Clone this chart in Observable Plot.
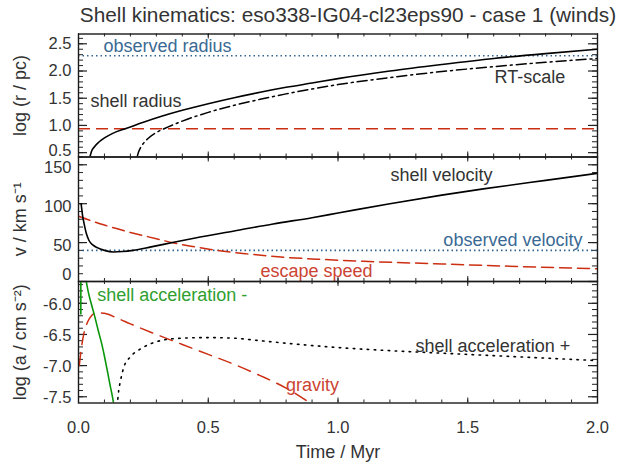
<!DOCTYPE html>
<html><head><meta charset="utf-8">
<script src="https://cdn.jsdelivr.net/npm/d3@7"></script>
<script src="https://cdn.jsdelivr.net/npm/@observablehq/plot@0.6"></script>
<style>
body{margin:0;background:#fff;}
#c{position:relative;width:627px;height:471px;background:#fff;font-family:"Liberation Sans",Arial,Helvetica,sans-serif;overflow:hidden;}
#title{position:absolute;left:0;top:3px;width:696px;text-align:center;font-size:20.8px;line-height:24px;color:#333;white-space:nowrap;}
</style></head>
<body>
<div id="c"><div id="title">Shell kinematics: eso338-IG04-cl23eps90 - case 1 (winds)</div></div>
<script>
// ---- data ----
const timeTicksMajor = [0, 0.5, 1.0, 1.5, 2.0];
const timeTicksMinor = d3.range(0, 2.0001, 0.1);

// panel 1: log radius
const radiusT = [0.044,0.05,0.06,0.08,0.10,0.13,0.18,0.25,0.32,0.40,0.50,0.60,0.70,0.80,0.90,1.00,1.20,1.40,1.60,1.80,2.00];
const radiusV = [0.42,0.52,0.60,0.70,0.77,0.85,0.94,1.06,1.17,1.28,1.40,1.51,1.61,1.70,1.78,1.86,2.00,2.12,2.23,2.32,2.40];
const rtT = [0.226,0.232,0.24,0.25,0.27,0.30,0.33,0.40,0.50,0.60,0.70,0.80,0.90,1.00,1.20,1.40,1.60,1.80,2.00];
const rtV = [0.42,0.52,0.60,0.67,0.77,0.87,0.94,1.08,1.24,1.37,1.48,1.58,1.67,1.75,1.88,1.99,2.08,2.16,2.23];
const observedRadius = [2.28];
const clusterRadius = [0.94];
const radiusTicksMajor = [0.5, 1.0, 1.5, 2.0, 2.5];
const radiusTicksMinor = d3.range(0.5, 2.61, 0.1);

// panel 2: velocity
const velT = [0.010,0.013,0.016,0.020,0.025,0.030,0.040,0.055,0.072,0.100,0.135,0.170,0.210,0.280,0.367,0.450,0.600,0.750,0.900,1.000,1.200,1.400,1.560,1.800,2.000];
const velV = [100,92,84,77,69,62,53,47,43.5,40,38,38.5,40,44.5,50.5,56,65,74,82,88,100,111,119,130,139];
const escT = [0,0.05,0.1,0.2,0.3,0.367,0.45,0.534,0.65,0.8,0.93,1.1,1.4,1.7,2.0];
const escV = [84,78,72.5,63,55,49.5,44.5,40,35.5,31,28.5,26,22.5,19.2,16.4];
const observedVelocity = [40];
const velTicksMajor = [0, 50, 100, 150];
const velTicksMinor = d3.range(0, 161, 10);

// panel 3: log acceleration
const accNegEarlyT = [0.009, 0.009];
const accNegEarlyV = [-6.17, -5.55];
const accNegT = [0.028,0.033,0.040,0.050,0.060,0.075,0.090,0.100,0.112,0.123,0.130,0.137];
const accNegV = [-5.60,-5.72,-5.86,-6.02,-6.17,-6.42,-6.66,-6.85,-7.10,-7.34,-7.48,-7.65];
const accPosT = [0.149,0.155,0.162,0.175,0.200,0.240,0.290,0.340,0.400,0.500,0.600,0.700,0.850,1.000,1.200,1.400,1.600,1.800,2.000];
const accPosV = [-7.65,-7.40,-7.24,-7.02,-6.86,-6.73,-6.63,-6.58,-6.56,-6.55,-6.56,-6.60,-6.66,-6.71,-6.76,-6.80,-6.84,-6.88,-6.92];
const gravT = [0.003,0.010,0.020,0.035,0.050,0.070,0.100,0.150,0.200,0.300,0.400,0.500,0.600,0.700,0.800,0.900];
const gravV = [-7.00,-6.75,-6.50,-6.30,-6.20,-6.15,-6.16,-6.24,-6.33,-6.50,-6.66,-6.82,-6.98,-7.16,-7.36,-7.62];
const accTicksMajor = [-6.0, -6.5, -7.0, -7.5];
const accTicksMinor = d3.range(-7.5, -5.69, 0.1);

// ---- styles ----
const FONT = "'Liberation Sans', Arial, Helvetica, sans-serif";
const RED = "#cc2e12", RED_T = "#cc4433";
const GREEN = "#0a960a", GREEN_T = "#2fa02f";
const BLUE = "#2e6491", BLUE_T = "#3a6a94";
const INK = "#333";
const LABEL_SIZE = 18;
const rows = (T, V) => T.map((t, i) => ({t, v: V[i]}));

const W = 627, H = 471, ML = 78, MR = 30;
const plotW = W - ML - MR;

function panel({top, bottom, domain, major, minor, fmt, ylabel, marks, bottomAxis, labelDy}) {
  const plotH = bottom - top;
  const m = [
    Plot.tickY(minor, {y: d => d, insetRight: plotW - 5, stroke: "#222", strokeWidth: 1}),
    Plot.tickY(minor, {y: d => d, insetLeft: plotW - 5, stroke: "#222", strokeWidth: 1}),
    Plot.tickY(major, {y: d => d, insetRight: plotW - 9, stroke: "#222", strokeWidth: 1.2}),
    Plot.tickY(major, {y: d => d, insetLeft: plotW - 9, stroke: "#222", strokeWidth: 1.2}),
    Plot.tickX(timeTicksMinor, {x: d => d, insetTop: plotH - 3, stroke: "#222"}),
    Plot.tickX(timeTicksMinor, {x: d => d, insetBottom: plotH - 3, stroke: "#222"}),
    Plot.tickX(timeTicksMajor, {x: d => d, insetTop: plotH - 5, stroke: "#222"}),
    Plot.tickX(timeTicksMajor, {x: d => d, insetBottom: plotH - 5, stroke: "#222"}),
    ...marks,
    Plot.frame({stroke: "#1a1a1a", strokeWidth: 1.4}),
    Plot.text([{t: -0.224, s: ylabel}], {x: "t", text: "s", rotate: -90, fontSize: LABEL_SIZE, fill: INK})
  ];
  for (const d of major) {
    m.push(Plot.text([d], {y: v => v, frameAnchor: "left", dx: -7, dy: labelDy(d), textAnchor: "end", text: fmt, fontSize: 16.5, fill: INK}));
  }
  if (bottomAxis) {
    m.push(Plot.text(timeTicksMajor, {x: d => d, frameAnchor: "bottom", dy: 30, text: d => d.toFixed(1), fontSize: 16.5, fill: INK}));
    m.push(Plot.text(["Time / Myr"], {frameAnchor: "bottom", dy: 55, text: d => d, fontSize: LABEL_SIZE, fill: INK}));
  }
  return Plot.plot({
    width: W, height: H, marginLeft: ML, marginRight: MR, marginTop: top, marginBottom: H - bottom,
    x: {domain: [0, 2], axis: null}, y: {domain, axis: null},
    style: {background: "transparent", overflow: "visible", position: "absolute", left: "0px", top: "0px", fontFamily: FONT},
    marks: m
  });
}

const txt = (arr, opts) => Plot.text(arr, {x: "t", y: "v", text: "s", fontSize: LABEL_SIZE, textAnchor: "start", ...opts});

const p1 = panel({
  top: 33.5, bottom: 156.5, domain: [0.42, 2.68],
  major: radiusTicksMajor, minor: radiusTicksMinor, fmt: d => d.toFixed(1), ylabel: "log (r / pc)",
  labelDy: d => (d === 0.5 ? -2 : 0),
  marks: [
    Plot.ruleY(observedRadius, {stroke: BLUE, strokeWidth: 1.6, strokeDasharray: "1.5,3"}),
    Plot.ruleY(clusterRadius, {stroke: RED, strokeWidth: 1.5, strokeDasharray: "12,6"}),
    Plot.line(rows(rtT, rtV), {x: "t", y: "v", stroke: "#000", strokeWidth: 1.5, strokeDasharray: "10,4,2,4", curve: "monotone-x", clip: true}),
    Plot.line(rows(radiusT, radiusV), {x: "t", y: "v", stroke: "#000", strokeWidth: 1.6, curve: "monotone-x", clip: true}),
    txt([{t: 0.096, v: 2.45, s: "observed radius"}], {fill: BLUE_T}),
    txt([{t: 0.046, v: 1.44, s: "shell radius"}], {fill: INK}),
    txt([{t: 1.603, v: 1.88, s: "RT-scale"}], {fill: INK})
  ]
});

const p2 = panel({
  top: 156.5, bottom: 281, domain: [0, 160],
  major: velTicksMajor, minor: velTicksMinor, fmt: d => String(d), ylabel: "v / km s\u207B\u00B9",
  labelDy: d => (d === 0 ? -7 : 3),
  marks: [
    Plot.ruleY(observedVelocity, {stroke: BLUE, strokeWidth: 1.6, strokeDasharray: "1.5,3"}),
    Plot.line(rows(escT, escV), {x: "t", y: "v", stroke: RED, strokeWidth: 1.5, strokeDasharray: "12,6", curve: "monotone-x", clip: true}),
    Plot.line(rows(velT, velV), {x: "t", y: "v", stroke: "#000", strokeWidth: 1.6, curve: "monotone-x", clip: true}),
    txt([{t: 1.202, v: 136.8, s: "shell velocity"}], {fill: INK}),
    txt([{t: 1.942, v: 52.9, s: "observed velocity"}], {fill: BLUE_T, textAnchor: "end"}),
    txt([{t: 0.701, v: 12.9, s: "escape speed"}], {fill: RED_T})
  ]
});

const p3 = panel({
  top: 281, bottom: 402.5, domain: [-7.6, -5.65],
  major: accTicksMajor, minor: accTicksMinor, fmt: d => d.toFixed(1), ylabel: "log (a / cm s\u207B\u00B2)",
  labelDy: d => 1,
  bottomAxis: true,
  marks: [
    Plot.line(rows(gravT, gravV), {x: "t", y: "v", stroke: RED, strokeWidth: 1.5, strokeDasharray: "13,8", curve: "monotone-x", clip: true}),
    Plot.line(rows(accPosT, accPosV), {x: "t", y: "v", stroke: "#000", strokeWidth: 1.6, strokeDasharray: "1.5,5.5", curve: "monotone-x", clip: true}),
    Plot.line(rows(accNegEarlyT, accNegEarlyV), {x: "t", y: "v", stroke: GREEN, strokeWidth: 1.6, clip: true}),
    Plot.line(rows(accNegT, accNegV), {x: "t", y: "v", stroke: GREEN, strokeWidth: 1.6, curve: "monotone-x", clip: true}),
    txt([{t: 0.072, v: -5.874, s: "shell acceleration -"}], {fill: GREEN_T}),
    txt([{t: 1.299, v: -6.687, s: "shell acceleration +"}], {fill: INK}),
    txt([{t: 0.80, v: -7.317, s: "gravity"}], {fill: RED_T})
  ]
});

const c = document.getElementById("c");
c.append(p1, p2, p3);
</script>
</body></html>
